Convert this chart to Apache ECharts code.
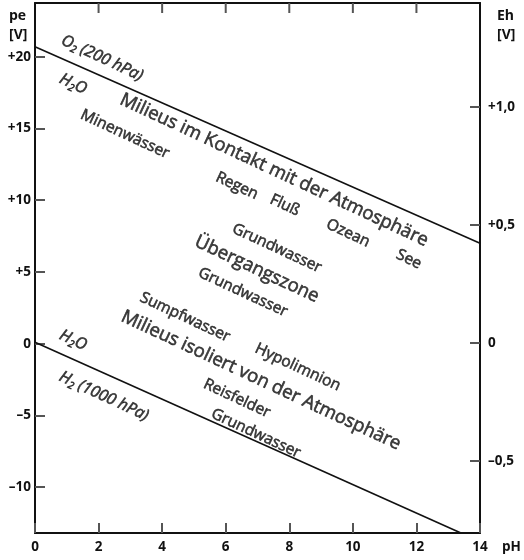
<!DOCTYPE html>
<html><head><meta charset="utf-8">
<script src="https://cdn.jsdelivr.net/npm/echarts@6/dist/echarts.min.js"></script>
<style>html,body{margin:0;padding:0;background:#fff}#c{width:524px;height:560px}</style>
</head><body><div id="c"></div>
<script>
// Axis ticks
const xTicks = [0, 2, 4, 6, 8, 10, 12, 14];
const topTicks = [2, 4, 6, 8, 10, 12];
const peMin = -13.2, peMax = 23.75;
const peTicks = [-10, -5, 0, 5, 10, 15, 20];
const peTickLabels = ['–10', '–5', '0', '+5', '+10', '+15', '+20'];
const ehTicks = [-0.5, 0, 0.5, 1.0];
const ehTickLabels = ['–0,5', '0', '+0,5', '+1,0'];

// Stability lines of water (pH, pe)
const o2Line = [[0, 20.7], [14, 7.0]];
const h2Line = [[0, 0.1], [13.4, -13.2]];

// Annotation labels: pH, pe, text, kind
const labelPH = [2.11, 1.2, 7.52, 2.83, 6.35, 7.86, 9.85, 11.76, 7.61, 6.98, 6.54, 4.72, 7.11, 8.27, 6.35, 6.95, 1.2, 2.17];
const labelPE = [19.9, 18.1, 12.1, 14.6, 11.0, 9.65, 7.7, 5.88, 6.65, 5.19, 3.58, 1.84, -2.56, -1.65, -3.82, -6.26, 0.23, -3.67];
const labelText = [
  'O{s|2} (200 hPa)', 'H{s|2}O', 'Milieus im Kontakt mit der Atmosphäre', 'Minenwässer',
  'Regen', 'Fluß', 'Ozean', 'See', 'Grundwasser', 'Übergangszone', 'Grundwasser',
  'Sumpfwasser', 'Milieus isoliert von der Atmosphäre', 'Hypolimnion', 'Reisfelder',
  'Grundwasser', 'H{s|2}O', 'H{s|2} (1000 hPa)'
];
const labelKind = ['chem', 'chem', 'big', 'small', 'small', 'small', 'small', 'small', 'small', 'big', 'small',
  'small', 'big', 'small', 'small', 'small', 'chem', 'chem'];

const FONT = 'Open Sans';
const kindStyle = {
  big: {fontSize: 18.5, fontStyle: 'normal'},
  small: {fontSize: 15.5, fontStyle: 'normal'},
  chem: {fontSize: 16, fontStyle: 'italic'}
};

const labelData = labelPH.map((p, i) => ({
  value: [p, labelPE[i]],
  label: {
    formatter: labelText[i],
    fontSize: kindStyle[labelKind[i]].fontSize,
    fontStyle: kindStyle[labelKind[i]].fontStyle,
    rich: {s: {fontSize: 10, fontStyle: kindStyle[labelKind[i]].fontStyle, fontFamily: FONT, color: '#111',
      textBorderColor: '#111', textBorderWidth: 0.6, padding: [9, 0, 0, 0]}}
  }
}));

const TICK_COLOR = '#555';
const chart = echarts.init(document.getElementById('c'), null, {renderer: 'canvas'});
const tickStyle = {show: true, inside: true, length: 10, lineStyle: {color: TICK_COLOR, width: 2}};
const axisLine = {show: true, onZero: false, lineStyle: {color: '#111', width: 2}};
const tickFont = {color: '#111', fontFamily: FONT, fontWeight: 'bold', fontSize: 13.5};
chart.setOption({
  animation: false,
  backgroundColor: '#fff',
  grid: {left: 35, right: 44, top: 3, bottom: 27, containLabel: false},
  xAxis: [{
    type: 'value', min: 0, max: 14, interval: 2, position: 'bottom',
    axisLine: axisLine, axisTick: tickStyle, splitLine: {show: false},
    axisLabel: Object.assign({margin: 7}, tickFont),
    name: 'pH', nameLocation: 'end', nameGap: 22,
    nameTextStyle: Object.assign({verticalAlign: 'top', padding: [7, 0, 0, 0]}, tickFont)
  }, {
    type: 'value', min: 0, max: 14, interval: 2, position: 'top',
    axisLine: axisLine, axisTick: {show: false}, splitLine: {show: false}, axisLabel: {show: false}
  }],
  yAxis: [{
    type: 'value', min: peMin, max: peMax, position: 'left',
    axisLine: axisLine, splitLine: {show: false},
    axisTick: Object.assign({customValues: peTicks}, tickStyle),
    axisLabel: Object.assign({customValues: peTicks, margin: 4,
      formatter: v => peTickLabels[peTicks.indexOf(Math.round(v))]}, tickFont)
  }, {
    type: 'value', min: -0.805, max: 1.441, position: 'right',
    axisLine: axisLine, splitLine: {show: false},
    axisTick: Object.assign({customValues: ehTicks}, tickStyle),
    axisLabel: Object.assign({customValues: ehTicks, margin: 8,
      formatter: v => ehTickLabels[ehTicks.findIndex(t => Math.abs(t - v) < 1e-6)]}, tickFont)
  }],
  graphic: [
    {type: 'text', left: 9, top: 7, style: {text: 'pe\n[V]', lineHeight: 19, fill: '#111', font: 'bold 14px "Open Sans"'}},
    {type: 'text', left: 497, top: 7, style: {text: 'Eh\n[V]', lineHeight: 19, fill: '#111', font: 'bold 14px "Open Sans"'}}
  ],
  series: [{
    type: 'line', data: o2Line, symbol: 'none', lineStyle: {color: '#111', width: 1.6}, silent: true
  }, {
    type: 'line', data: h2Line, symbol: 'none', lineStyle: {color: '#111', width: 1.6}, silent: true
  }, {
    type: 'custom', silent: true, clip: false, z: 10,
    data: topTicks.map(v => [v, peMax]),
    renderItem: (params, api) => {
      const p = api.coord([api.value(0), api.value(1)]);
      return {type: 'line', shape: {x1: p[0], y1: p[1], x2: p[0], y2: p[1] + 10}, style: {stroke: TICK_COLOR, lineWidth: 2}};
    }
  }, {
    type: 'scatter', data: labelData, symbolSize: 0, silent: true,
    label: {show: true, position: 'inside', rotate: -25, color: '#111', fontFamily: FONT, align: 'center', verticalAlign: 'middle',
      textBorderColor: '#111', textBorderWidth: 0.6}
  }]
});
</script></body></html>
